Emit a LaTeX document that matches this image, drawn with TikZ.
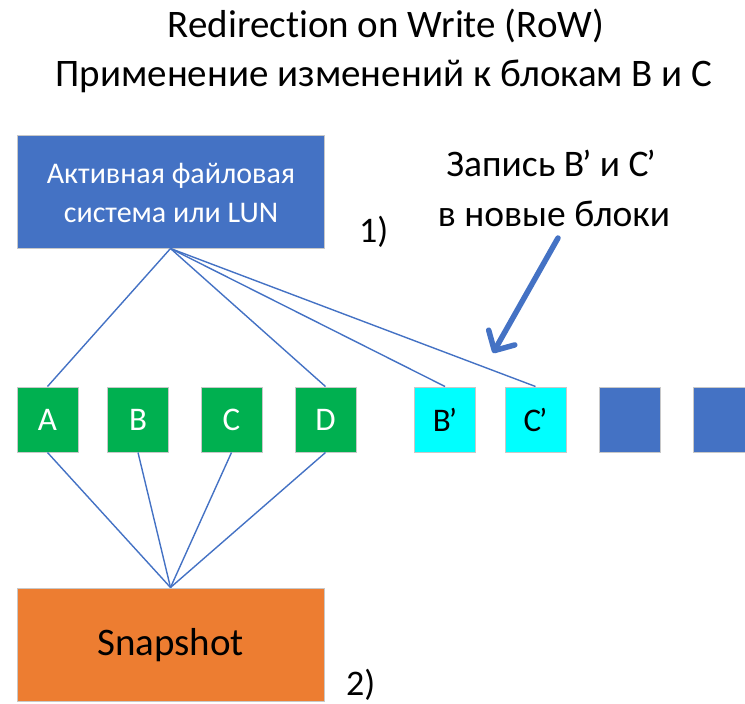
\documentclass[tikz,border=0pt]{standalone}
\usepackage{fontspec}
\setmainfont[Ligatures=CommonOff]{Carlito}
\usetikzlibrary{arrows.meta}
\definecolor{fsblue}{HTML}{4472C4}
\definecolor{blkgreen}{HTML}{00B050}
\definecolor{blkcyan}{HTML}{00FFFF}
\definecolor{snaporange}{HTML}{ED7D31}
\definecolor{edgegray}{HTML}{C8C8C8}
% prime mark set close to its letter
\newcommand{\prm}{\kern-0.06em’}
\newcommand{\blkfont}{\fontsize{33}{33}\selectfont}
\tikzset{
  panel/.style={draw=edgegray, line width=1pt, inner sep=0pt},
  blk/.style={panel, minimum width=61pt, minimum height=65pt},
  usedblk/.style={blk, fill=blkgreen, text=white, font=\blkfont},
  newblk/.style={blk, fill=blkcyan, text=black, font=\blkfont},
  freeblk/.style={blk, fill=fsblue},
  link/.style={draw=fsblue, line width=1.4pt},
  bigtxt/.style={font=\fontsize{39}{39}\selectfont, anchor=base, inner sep=0pt},
  calltxt/.style={font=\fontsize{37.5}{37.5}\selectfont, anchor=base, inner sep=0pt},
  boxtxt/.style={font=\fontsize{30}{30}\selectfont, text=white, anchor=base, inner sep=0pt},
  numtxt/.style={font=\fontsize{36}{36}\selectfont, anchor=base west, inner sep=0pt},
}
\begin{document}
\begin{tikzpicture}[x=1pt, y=-1pt]
\useasboundingbox (0,0) rectangle (745,704);

% title
\node[bigtxt] (t1) at (386,37) {Redirection on Write (RoW)};
\node[bigtxt] (t2) at (384,86) {Применение изменений к блокам B и C};

% active file system
\node[panel, fill=fsblue, minimum width=307pt, minimum height=113pt] (fs) at (170.5,191.5) {};
\node[boxtxt] (fs1) at (171,183) {Активная файловая};
\node[boxtxt] (fs2) at (171,222) {система или LUN};
\node[numtxt] (n1) at (359,242) {1)};

% blocks
\node[usedblk] (a) at (47.5,419.5) {A};
\node[usedblk] (b) at (138,419.5) {B};
\node[usedblk] (c) at (231.5,419.5) {C};
\node[usedblk] (d) at (325.5,419.5) {D};
\node[newblk] (bp) at (445,419.5) {B\prm};
\node[newblk] (cp) at (535.5,419.5) {C\prm};
\node[freeblk] (f1) at (629.5,419.5) {};
\node[freeblk] (f2) at (724,419.5) {};

% snapshot
\node[panel, fill=snaporange, minimum width=307pt, minimum height=113pt] (snap) at (170.5,644.5) {};
\node[bigtxt] (snaptxt) at (170.5,655) {Snapshot};
\node[numtxt] (n2) at (346,695) {2)};

% pointers of the active file system
\foreach \t in {a,d,bp,cp} \draw[link] (fs.south) -- (\t.north);
% pointers of the snapshot
\foreach \t in {a,b,c,d} \draw[link] (\t.south) -- (snap.north);

% callout
\node[calltxt] (c1) at (551,176) {Запись B\prm{} и C\prm};
\node[calltxt] (c2) at (554,226) {в новые блоки};
\coordinate (arrS) at (558,238);
\coordinate (arrE) at (493,353);
\draw[fsblue, line width=5.5pt, line cap=round,
  -{Straight Barb[length=15pt, width=30pt, line cap=round, line join=round]}] (arrS) -- (arrE);
\end{tikzpicture}
\end{document}
